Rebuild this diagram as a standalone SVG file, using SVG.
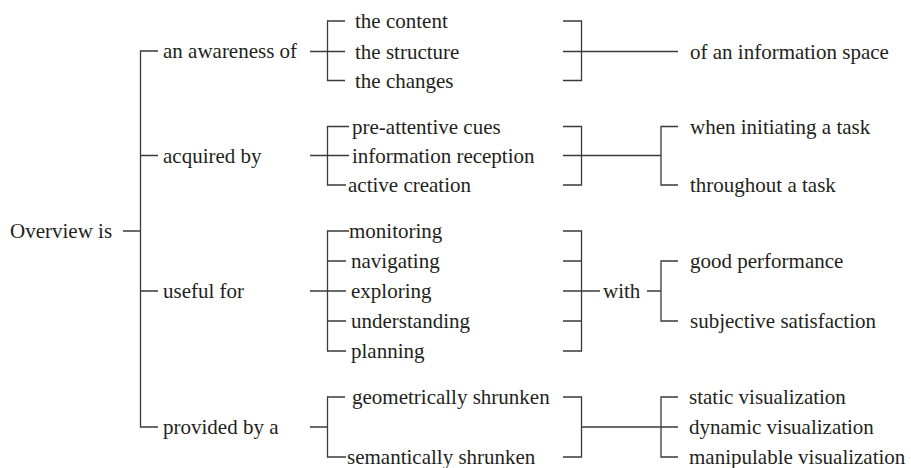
<svg xmlns="http://www.w3.org/2000/svg" width="911" height="468" viewBox="0 0 911 468">
<style>
text{font-family:"Liberation Serif","Times New Roman",serif;font-size:21px;fill:#231f20}
.c path{fill:none;stroke:#3a3a3a;stroke-width:1.3}
</style>
<rect width="911" height="468" fill="#fff"/>
<g class="c" id="connectors">
<path d="M123,231 H140.5 M158,51 H140.5 V427 H158 M140.5,155.5 H158 M140.5,291 H158"/>
<path d="M310,51.5 H327.5 M345,21 H327.5 V80.5 H345 M327.5,51.5 H345"/>
<path d="M563,21 H581.5 V80.5 H563 M563,51.5 H678"/>
<path d="M310,155.5 H327.5 M349,126.5 H327.5 V185 H346 M327.5,155.5 H349"/>
<path d="M563,126.5 H581.5 V185 H563 M563,155.5 H661 M678,126.5 H661 V185 H678"/>
<path d="M310,291 H327.5 M349,231 H327.5 V351 H346 M327.5,261 H346 M327.5,291 H346 M327.5,321 H346"/>
<path d="M563,231 H581.5 V351 H563 M563,261 H581.5 M563,291 H600 M563,321 H581.5 M647,291 H661 M678,261 H661 V321 H678"/>
<path d="M310,427 H327.5 M345,397 H327.5 V457 H346"/>
<path d="M563,397 H581.5 V457 H563 M581.5,427 H678 M678,397 H661 V457 H678"/>
</g>
<g id="n-overview"><text x="10" y="238">Overview is</text></g>
<g id="n-awareness"><text x="163" y="58">an awareness of</text></g>
<g id="n-acquired"><text x="163" y="162.5">acquired by</text></g>
<g id="n-useful"><text x="163" y="298">useful for</text></g>
<g id="n-provided"><text x="163" y="434">provided by a</text></g>
<g id="n-content"><text x="355" y="28">the content</text></g>
<g id="n-structure"><text x="355" y="58.5">the structure</text></g>
<g id="n-changes"><text x="355" y="87.5">the changes</text></g>
<g id="n-infospace"><text x="690" y="58.5">of an information space</text></g>
<g id="n-preattentive"><text x="352" y="133.5">pre-attentive cues</text></g>
<g id="n-reception"><text x="352" y="162.5">information reception</text></g>
<g id="n-creation"><text x="348" y="192">active creation</text></g>
<g id="n-initiating"><text x="690" y="133.5">when initiating a task</text></g>
<g id="n-throughout"><text x="690" y="192">throughout a task</text></g>
<g id="n-monitoring"><text x="349" y="238">monitoring</text></g>
<g id="n-navigating"><text x="351" y="268">navigating</text></g>
<g id="n-exploring"><text x="351" y="298">exploring</text></g>
<g id="n-understanding"><text x="351" y="328">understanding</text></g>
<g id="n-planning"><text x="351" y="358">planning</text></g>
<g id="n-with"><text x="603" y="298">with</text></g>
<g id="n-performance"><text x="690" y="268">good performance</text></g>
<g id="n-satisfaction"><text x="690" y="328">subjective satisfaction</text></g>
<g id="n-geometric"><text x="352" y="404">geometrically shrunken</text></g>
<g id="n-semantic"><text x="347" y="464">semantically shrunken</text></g>
<g id="n-static"><text x="689" y="404">static visualization</text></g>
<g id="n-dynamic"><text x="689" y="434">dynamic visualization</text></g>
<g id="n-manipulable"><text x="689" y="464">manipulable visualization</text></g>
</svg>
